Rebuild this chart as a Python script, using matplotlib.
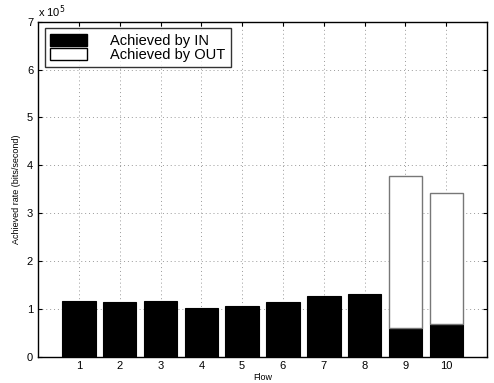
import matplotlib
matplotlib.use("Agg")
import matplotlib.pyplot as plt
from matplotlib.patches import Patch
from matplotlib.ticker import FuncFormatter

plt.rcParams['font.family'] = ['Liberation Sans', 'DejaVu Sans']

flows = [1, 2, 3, 4, 5, 6, 7, 8, 9, 10]
rate_in = [1.17e5, 1.15e5, 1.165e5, 1.01e5, 1.05e5, 1.14e5, 1.275e5, 1.30e5, 0.60e5, 0.69e5]
rate_out = [0, 0, 0, 0, 0, 0, 0, 0, 3.18e5, 2.73e5]

fig = plt.figure(figsize=(4.94, 3.83), dpi=100)
ax = fig.add_axes([0.077, 0.069, 0.909, 0.874])

ax.bar(flows, rate_in, width=0.82, color='black', edgecolor='black', linewidth=0.8, zorder=3)
out_flows = [f for f, o in zip(flows, rate_out) if o > 0]
out_vals = [o for o in rate_out if o > 0]
out_base = [i for i, o in zip(rate_in, rate_out) if o > 0]
ax.bar(out_flows, out_vals, bottom=out_base, width=0.82, color='white',
       edgecolor='#777777', linewidth=1.0, zorder=3)

ax.set_xlim(0, 11)
ax.set_ylim(0, 7e5)
ax.set_xticks(flows)
ax.set_yticks([i * 1e5 for i in range(8)])
ax.yaxis.set_major_formatter(FuncFormatter(lambda v, p: '%d' % round(v / 1e5)))
ax.tick_params(direction='in', top=True, right=True, labelsize=8, length=3, width=0.8)
ax.grid(True, color='#999999', linestyle=(0, (1, 3)), linewidth=0.7, zorder=0)
for s in ax.spines.values():
    s.set_linewidth(1.0)

ax.set_xlabel('Flow', fontsize=6.5, labelpad=1)
ax.set_ylabel('Achieved rate (bits/second)', fontsize=6.5, labelpad=4)
ax.text(0.0, 1.005, r'x 10$^5$', transform=ax.transAxes, fontsize=8, va='bottom', ha='left')

handles = [Patch(facecolor='black', edgecolor='black'),
           Patch(facecolor='white', edgecolor='black')]
leg = ax.legend(handles, ['Achieved by IN', 'Achieved by OUT'], loc='upper left',
                fontsize=10.5, frameon=True, fancybox=False, edgecolor='black',
                handlelength=2.5, handleheight=0.9, handletextpad=1.6,
                labelspacing=-0.05, borderpad=0.4, borderaxespad=0.45)
leg.get_frame().set_linewidth(1.0)
leg.set_zorder(5)

fig.savefig('out.png', dpi=100)
